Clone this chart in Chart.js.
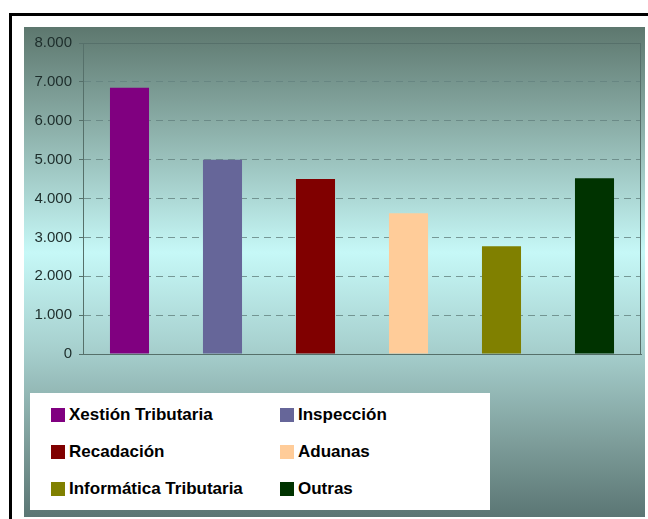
<!DOCTYPE html>
<html>
<head>
<meta charset="utf-8">
<script src="https://cdn.jsdelivr.net/npm/chart.js@4"></script>
<style>
  body { margin: 0; background: #fff; font-family: "Liberation Sans", Arial, sans-serif; }
  #frame { position: absolute; left: 9px; top: 13px; width: 700px; height: 600px;
           border-left: 3px solid #000; border-top: 3px solid #000; }
  #panel { position: absolute; left: 24px; top: 27px; width: 621px; height: 490px;
           background: linear-gradient(to bottom, #5d776e 0%, #8fb3ad 22%, #c6f8f7 46%, #a6cfcd 66%, #7f9f9c 84%, #5b7674 100%); }
  #wrap { position: absolute; left: 0; top: 0; width: 621px; height: 490px; }
  #legend { position: absolute; left: 6px; top: 366px; width: 460px; height: 117px; background: #fff;
            display: grid; grid-template-columns: 229px 229px; grid-auto-rows: 37px;
            padding: 3px 0 0 21px; box-sizing: border-box; }
  .item { display: flex; align-items: center; font-weight: bold; font-size: 17px; color: #000; }
  .sw { width: 14px; height: 14px; margin-right: 4px; }
</style>
</head>
<body>
<div id="frame"></div>
<div id="panel">
  <div id="wrap"><canvas id="myChart"></canvas></div>
  <div id="legend"></div>
</div>
<script>
const categories = ['Xestión Tributaria', 'Inspección', 'Recadación', 'Aduanas', 'Informática Tributaria', 'Outras'];
const values = [6850, 5000, 4500, 3620, 2770, 4520];
const colors = ['#800080', '#666699', '#800000', '#FFCC99', '#808000', '#003300'];
const yTickLabels = ['0', '1.000', '2.000', '3.000', '4.000', '5.000', '6.000', '7.000', '8.000'];

const axisColor = '#56706a';
const gridColor = 'rgba(100,130,127,0.8)';

// solid frame round the plot area (top and right edges)
const plotFrame = {
  id: 'plotFrame',
  afterDraw(chart) {
    const a = chart.chartArea, c = chart.ctx;
    c.save();
    c.strokeStyle = axisColor;
    c.lineWidth = 1;
    c.strokeRect(a.left + 0.5, a.top + 0.5, a.right - a.left - 1, a.bottom - a.top);
    c.restore();
  }
};

const ctx = document.getElementById('myChart');

new Chart(ctx, {
  type: 'bar',
  data: {
    labels: categories,
    datasets: [{
      data: values,
      backgroundColor: colors,
      borderWidth: 0,
      barPercentage: 0.42,
      categoryPercentage: 1
    }]
  },
  options: {
    responsive: true,
    maintainAspectRatio: false,
    animation: false,
    layout: { padding: { top: 12, right: 4, bottom: 163, left: 0 } },
    plugins: { legend: { display: false }, tooltip: { enabled: false } },
    scales: {
      x: {
        ticks: { display: false },
        grid: { display: false },
        border: { color: axisColor },
        afterFit(scale) { scale.height = 0; }
      },
      y: {
        min: 0,
        max: 8000,
        ticks: {
          stepSize: 1000,
          color: '#1d2d2b',
          padding: 7,
          font: { family: '"Liberation Sans", Arial, sans-serif', size: 15 },
          callback: (v, i) => yTickLabels[i]
        },
        grid: {
          color: c => (c.tick && (c.tick.value === 0 || c.tick.value === 8000)) ? 'rgba(0,0,0,0)' : gridColor,
          tickColor: axisColor,
          tickLength: 4,
          tickBorderDash: [4, 0]
        },
        border: { color: axisColor, dash: [7, 5] },
        afterFit(scale) { scale.width = 59; }
      }
    }
  },
  plugins: [plotFrame]
});

// legend, two columns
const legend = document.getElementById('legend');
categories.forEach((name, i) => {
  const item = document.createElement('div');
  item.className = 'item';
  const sw = document.createElement('span');
  sw.className = 'sw';
  sw.style.background = colors[i];
  item.appendChild(sw);
  item.appendChild(document.createTextNode(name));
  legend.appendChild(item);
});
</script>
</body>
</html>
